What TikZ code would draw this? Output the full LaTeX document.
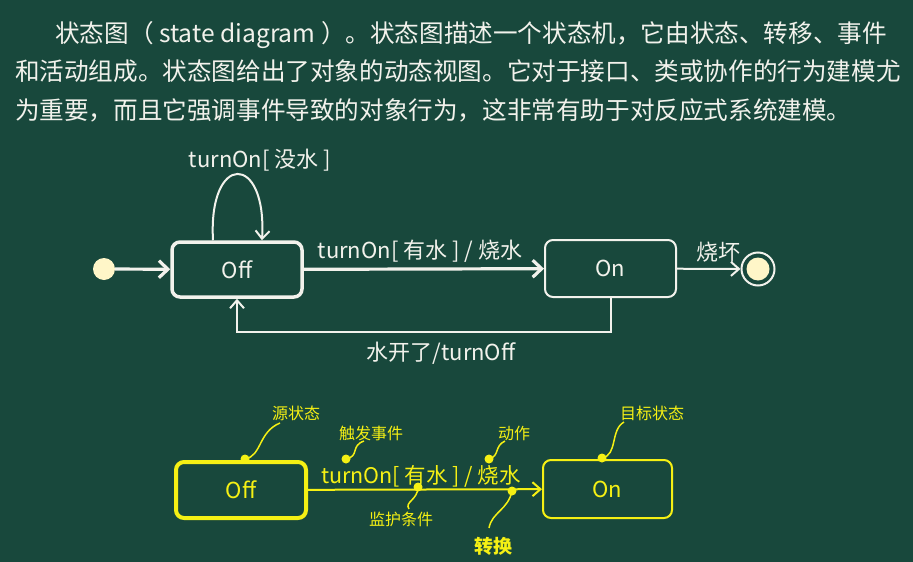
\documentclass[tikz,border=0pt]{standalone}
\usepackage{fontspec}
\newfontfamily\cjk{Noto Sans CJK SC}
\usetikzlibrary{arrows.meta}
\definecolor{bg}{RGB}{24,72,60}
\definecolor{fg}{RGB}{242,242,236}
\definecolor{cream}{RGB}{255,246,200}
\definecolor{yel}{RGB}{245,240,20}
\tikzset{
  para/.style={font=\cjk\fontsize{24.6}{30}\selectfont, text=fg, inner sep=0, anchor=base west},
  lbl/.style={font=\cjk\fontsize{22}{26}\selectfont, text=fg, inner sep=0},
  ylbl/.style={font=\cjk\fontsize{21.5}{25}\selectfont, text=yel, inner sep=0},
  note/.style={font=\cjk\fontsize{16}{20}\selectfont, text=yel, inner sep=0},
  statebox/.style={draw=fg, fill=bg, rounded corners=8pt, minimum width=130pt, minimum height=55pt,
     font=\cjk\fontsize{22}{26}\selectfont, text=fg, inner sep=0},
  ystatebox/.style={draw=yel, fill=bg, rounded corners=8pt, minimum width=130pt, minimum height=56pt,
     font=\cjk\fontsize{22}{26}\selectfont, text=yel, inner sep=0},
  thickarr/.style={draw=fg, line width=3.2pt, -{Straight Barb[length=9pt,width=17pt,line width=3.2pt]}},
  thinarr/.style={draw=fg, line width=2pt, -{Straight Barb[length=8pt,width=14pt,line width=2pt]}},
  yarr/.style={draw=yel, line width=2pt, -{Straight Barb[length=8pt,width=14pt,line width=2pt]}},
  callout/.style={draw=yel, line width=1.5pt},
}
\begin{document}
\begin{tikzpicture}[x=1pt,y=-1pt]
\fill[bg] (0,0) rectangle (913,562);
\useasboundingbox (0,0) rectangle (913,562);

% paragraph
\node[para] (p1) at (55,42) {状态图（ state diagram ）。状态图描述一个状态机，它由状态、转移、事件};
\node[para] (p2) at (15,80) {和活动组成。状态图给出了对象的动态视图。它对于接口、类或协作的行为建模尤};
\node[para] (p3) at (15,119) {为重要，而且它强调事件导致的对象行为，这非常有助于对反应式系统建模。};

% top diagram
\node[circle, fill=cream, minimum size=22pt, inner sep=0] (init) at (104,269) {};
\node[statebox, line width=3.5pt] (off) at (237,269.5) {Off};
\node[statebox, line width=2pt, minimum width=131pt, minimum height=57pt] (on) at (610.5,268.5) {On};
\node[circle, draw=fg, line width=2pt, fill=bg, minimum size=33pt, inner sep=0] (fin) at (758,269) {};
\node[circle, fill=cream, minimum size=23pt, inner sep=0] (finin) at (fin) {};

\draw[thickarr] (init) -- (off);
\draw[thickarr] (off) -- (on);
\draw[thinarr] (on) -- (fin);
\draw[thinarr] ([xshift=-24pt]off.north) .. controls +(-5,-88) and +(5,-88) .. ([xshift=25pt]off.north);
\draw[thinarr] (on.south) -- ++(0,34) -| (off.south);

\node[lbl] (l1) at (260,160) {turnOn[ 没水 ]};
\node[lbl] (l2) at (420,251) {turnOn[ 有水 ] / 烧水};
\node[lbl] (l3) at (718,252) {烧坏};
\node[lbl] (l4) at (441,353) {水开了/turnOff};

% bottom diagram
\node[ystatebox, line width=4pt] (yoff) at (241,490) {Off};
\node[ystatebox, line width=2pt, minimum width=129pt, minimum height=58pt] (yon) at (607.5,489) {On};
\draw[yarr] (yoff) -- (yon);
\node[ylbl] (yl) at (421,476) {turnOn[ 有水 ] / 烧水};

% callouts
\coordinate (dsrc) at (245,459);
\coordinate (dtrig) at (346,459);
\coordinate (dact) at (489,459);
\coordinate (dtgt) at (602,458);
\coordinate (dgrd) at (418,487);
\coordinate (dtr) at (512,491);

\node[note] (nsrc) at (296,413) {源状态};
\node[note] (ntrig) at (371,433) {触发事件};
\node[note] (nact) at (514,433) {动作};
\node[note] (ntgt) at (652,413) {目标状态};
\node[note] (ngrd) at (401,519) {监护条件};
\node[note, font=\cjk\bfseries\fontsize{19}{23}\selectfont] (ntr) at (493,546) {转换};

\draw[callout] (dsrc) .. controls (262,456) and (258,432) .. (280,423);
\draw[callout] (dtrig) .. controls (360,456) and (350,446) .. (364,441);
\draw[callout] (dact) .. controls (500,456) and (494,446) .. (505,441);
\draw[callout] (dtgt) .. controls (618,455) and (610,430) .. (624,422);
\draw[callout] (dgrd) .. controls (418,500) and (404,502) .. (409,509);
\draw[callout] (dtr) .. controls (508,510) and (492,512) .. (489,528);

\foreach \d in {dsrc,dtrig,dact,dtgt,dgrd,dtr}
  \fill[yel] (\d) circle (4.5pt);
\end{tikzpicture}
\end{document}
